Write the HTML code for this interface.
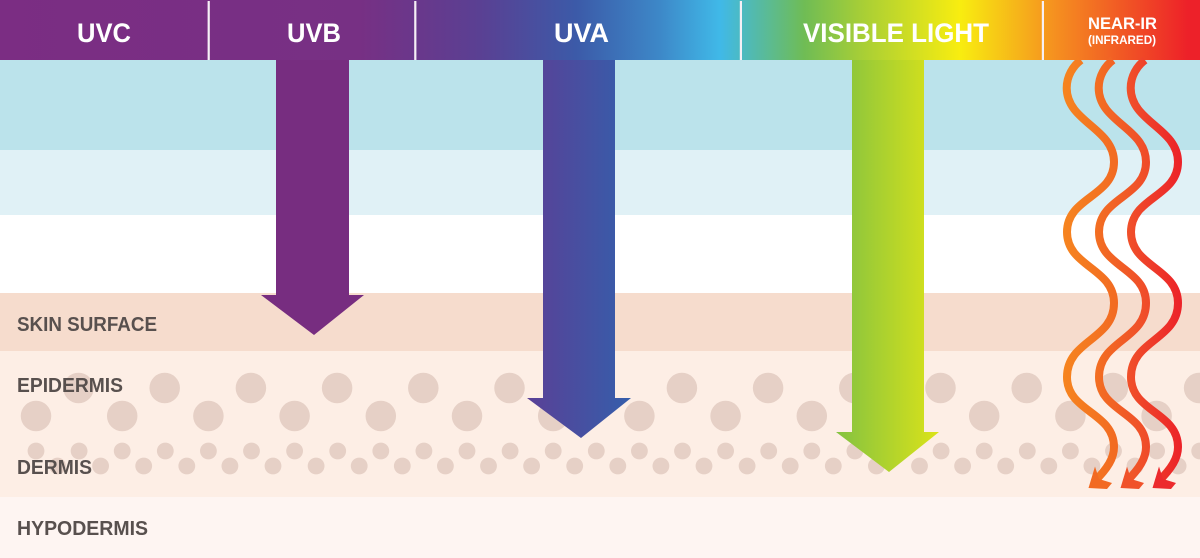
<!DOCTYPE html>
<html>
<head>
<meta charset="utf-8">
<title>Light penetration into skin</title>
<style>
html,body{margin:0;padding:0;background:#fff;width:1200px;height:558px;overflow:hidden}
svg{display:block}
text{font-family:"Liberation Sans",sans-serif;font-weight:700}
</style>
</head>
<body>
<svg width="1200" height="558" viewBox="0 0 1200 558" xmlns="http://www.w3.org/2000/svg">
<defs>
<linearGradient id="hdr" gradientUnits="userSpaceOnUse" x1="0" y1="0" x2="1200" y2="0">
<stop offset="0" stop-color="#7b2d83"/>
<stop offset=".3" stop-color="#773084"/>
<stop offset=".4" stop-color="#5a4093"/>
<stop offset=".48" stop-color="#3c5aa8"/>
<stop offset=".55" stop-color="#3d88c8"/>
<stop offset=".6" stop-color="#40b9e8"/>
<stop offset=".67" stop-color="#6fbc55"/>
<stop offset=".72" stop-color="#a9cf35"/>
<stop offset=".8" stop-color="#f8ed10"/>
<stop offset=".88" stop-color="#f58f20"/>
<stop offset=".99" stop-color="#ed2129"/>
<stop offset="1" stop-color="#ed2129"/>
</linearGradient>
<linearGradient id="uva" gradientUnits="userSpaceOnUse" x1="527" y1="0" x2="631" y2="0">
<stop offset="0" stop-color="#5a4096"/>
<stop offset="1" stop-color="#355eab"/>
</linearGradient>
<linearGradient id="vis" gradientUnits="userSpaceOnUse" x1="836" y1="0" x2="939" y2="0">
<stop offset="0" stop-color="#83c241"/>
<stop offset="1" stop-color="#dbe319"/>
</linearGradient>
<linearGradient id="ir1" gradientUnits="userSpaceOnUse" x1="1062" y1="0" x2="1118" y2="0">
<stop offset="0" stop-color="#f6851f"/>
<stop offset="1" stop-color="#f26a22"/>
</linearGradient>
<linearGradient id="ir2" gradientUnits="userSpaceOnUse" x1="1062" y1="0" x2="1118" y2="0">
<stop offset="0" stop-color="#f37022"/>
<stop offset="1" stop-color="#ef4a2a"/>
</linearGradient>
<linearGradient id="ir3" gradientUnits="userSpaceOnUse" x1="1062" y1="0" x2="1118" y2="0">
<stop offset="0" stop-color="#f0522a"/>
<stop offset="1" stop-color="#ec2229"/>
</linearGradient>
</defs>

<rect x="0" y="60" width="1200" height="90" fill="#bbe3eb"/>
<rect x="0" y="150" width="1200" height="65" fill="#e0f1f6"/>
<rect x="0" y="215" width="1200" height="78" fill="#ffffff"/>
<rect x="0" y="293" width="1200" height="58" fill="#f6dccd"/>
<rect x="0" y="351" width="1200" height="146" fill="#fdeee5"/>
<rect x="0" y="497" width="1200" height="61" fill="#fef5f2"/>

<path fill="none" stroke="#e6d0c6" stroke-width="30.5" stroke-linecap="round" d="M78.5 388h.01M164.7 388h.01M250.9 388h.01M337.1 388h.01M423.3 388h.01M509.5 388h.01M595.7 388h.01M681.9 388h.01M768.1 388h.01M854.3 388h.01M940.5 388h.01M1026.7 388h.01M1112.9 388h.01M1199.1 388h.01M36 416h.01M122.2 416h.01M208.4 416h.01M294.6 416h.01M380.8 416h.01M467 416h.01M553.2 416h.01M639.4 416h.01M725.6 416h.01M811.8 416h.01M898 416h.01M984.2 416h.01M1070.4 416h.01M1156.6 416h.01"/>
<path fill="none" stroke="#e6d0c6" stroke-width="16.8" stroke-linecap="round" d="M36 451h.01M79.1 451h.01M122.2 451h.01M165.3 451h.01M208.4 451h.01M251.5 451h.01M294.6 451h.01M337.7 451h.01M380.8 451h.01M423.9 451h.01M467 451h.01M510.1 451h.01M553.2 451h.01M596.3 451h.01M639.4 451h.01M682.5 451h.01M725.6 451h.01M768.7 451h.01M811.8 451h.01M854.9 451h.01M898 451h.01M941.1 451h.01M984.2 451h.01M1027.3 451h.01M1070.4 451h.01M1113.5 451h.01M1156.6 451h.01M1199.7 451h.01M57.5 466h.01M100.6 466h.01M143.7 466h.01M186.8 466h.01M229.9 466h.01M273 466h.01M316.1 466h.01M359.2 466h.01M402.3 466h.01M445.4 466h.01M488.5 466h.01M531.6 466h.01M574.7 466h.01M617.8 466h.01M660.9 466h.01M704 466h.01M747.1 466h.01M790.2 466h.01M833.3 466h.01M876.4 466h.01M919.5 466h.01M962.6 466h.01M1005.7 466h.01M1048.8 466h.01M1091.9 466h.01M1135 466h.01M1178.1 466h.01"/>

<rect x="0" y="0" width="1200" height="60" fill="url(#hdr)"/>
<g fill="#f6f0f6">
<rect x="207.6" y="1" width="2.2" height="59"/>
<rect x="414.2" y="1" width="2.2" height="59"/>
<rect x="739.8" y="1" width="2.2" height="59"/>
<rect x="1041.8" y="1" width="2.2" height="59"/>
</g>

<polygon fill="#772d80" points="276,60 349,60 349,295 364,295 314,335 261,295 276,295"/>
<polygon fill="url(#uva)" points="543,60 615,60 615,398 631,398 581,438 527,398 543,398"/>
<polygon fill="url(#vis)" points="852,60 924,60 924,432 939,432 889,472 836,432 852,432"/>

<g fill="none" stroke-width="8">
<path stroke="url(#ir1)" d="M1081 60C1073 66 1066.7 76 1066.7 88C1066.7 122 1114 128 1114 162C1114 197 1067 197 1067 232C1067 267 1114 268 1114 303C1114 340 1067 340 1067 377C1067 412 1114 412 1114 447C1114 458 1108 468 1094 482"/>
<path transform="translate(32 0)" stroke="url(#ir2)" d="M1081 60C1073 66 1066.7 76 1066.7 88C1066.7 122 1114 128 1114 162C1114 197 1067 197 1067 232C1067 267 1114 268 1114 303C1114 340 1067 340 1067 377C1067 412 1114 412 1114 447C1114 458 1108 468 1094 482"/>
<path transform="translate(64 0)" stroke="url(#ir3)" d="M1081 60C1073 66 1066.7 76 1066.7 88C1066.7 122 1114 128 1114 162C1114 197 1067 197 1067 232C1067 267 1114 268 1114 303C1114 340 1067 340 1067 377C1067 412 1114 412 1114 447C1114 458 1108 468 1094 482"/>
</g>
<polygon fill="#f26a22" points="1088.5,488 1095,466.5 1099,479 1112,483 1107,489"/>
<polygon fill="#f0522a" points="1120.5,488 1127,466.5 1131,479 1144,483 1139,489"/>
<polygon fill="#ec2a2d" points="1152.5,488 1159,466.5 1163,479 1176,483 1171,489"/>

<g fill="#ffffff">
<text x="77" y="42" font-size="27" textLength="54" lengthAdjust="spacingAndGlyphs">UVC</text>
<text x="287" y="42" font-size="27" textLength="54" lengthAdjust="spacingAndGlyphs">UVB</text>
<text x="554" y="42" font-size="27" textLength="55" lengthAdjust="spacingAndGlyphs">UVA</text>
<text x="803" y="42" font-size="27" textLength="186" lengthAdjust="spacingAndGlyphs">VISIBLE LIGHT</text>
<text x="1088" y="29" font-size="16.5" textLength="69" lengthAdjust="spacingAndGlyphs">NEAR-IR</text>
<text x="1088" y="44" font-size="11.5" textLength="68" lengthAdjust="spacingAndGlyphs">(INFRARED)</text>
</g>

<g fill="#58504e" font-size="20">
<text x="17" y="331" textLength="140" lengthAdjust="spacingAndGlyphs">SKIN SURFACE</text>
<text x="17" y="392" textLength="106" lengthAdjust="spacingAndGlyphs">EPIDERMIS</text>
<text x="17" y="474" textLength="75" lengthAdjust="spacingAndGlyphs">DERMIS</text>
<text x="17" y="535" textLength="131" lengthAdjust="spacingAndGlyphs">HYPODERMIS</text>
</g>
</svg>
</body>
</html>
